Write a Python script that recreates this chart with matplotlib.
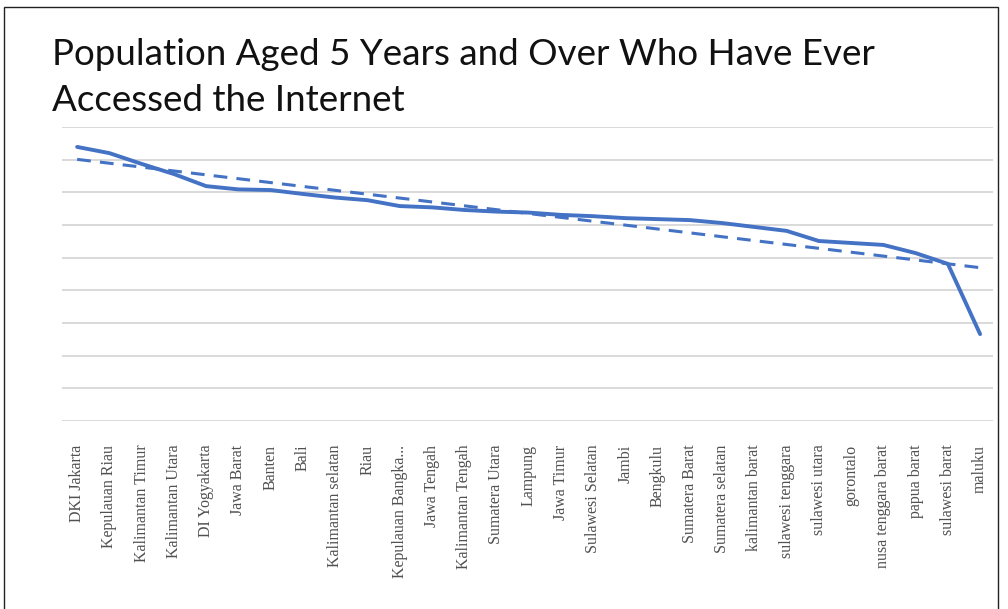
import matplotlib
matplotlib.use("Agg")
import matplotlib.pyplot as plt
from matplotlib.patches import Rectangle
import numpy as np

provinces = [
    "DKI Jakarta", "Kepulauan Riau", "Kalimantan Timur", "Kalimantan Utara",
    "DI Yogyakarta", "Jawa Barat", "Banten", "Bali", "Kalimantan selatan",
    "Riau", "Kepulauan Bangka...", "Jawa Tengah", "Kalimantan Tengah",
    "Sumatera Utara", "Lampung", "Jawa Timur", "Sulawesi Selatan", "Jambi",
    "Bengkulu", "Sumatera Barat", "Sumatera selatan", "kalimantan barat",
    "sulawesi tenggara", "sulawesi utara", "gorontalo", "nusa tenggara barat",
    "papua barat", "sulawesi barat", "maluku",
]
internet_pct = [
    83.9, 82.0, 78.7, 75.6, 71.9, 70.9, 70.7, 69.5, 68.4, 67.6,
    65.8, 65.4, 64.6, 64.1, 63.8, 63.1, 62.7, 62.1, 61.8, 61.5,
    60.6, 59.4, 58.2, 55.1, 54.5, 53.9, 51.4, 48.1, 26.6,
]
title_lines = ["Population Aged 5 Years and Over Who Have Ever",
               "Accessed the Internet"]

W, H = 1008, 609
fig = plt.figure(figsize=(W / 100, H / 100), dpi=100)
fig.patch.set_facecolor("white")

# chart border
fig.add_artist(Rectangle((4 / W, -0.01), 994 / W, (H - 7) / H + 0.01,
                         transform=fig.transFigure, fill=False,
                         edgecolor="#222222", linewidth=1.0))

ax = fig.add_axes([62 / W, (H - 421) / H, (993 - 62) / W, (421 - 127) / H])
x = np.arange(len(provinces))
blue = "#4472C4"
ax.plot(x, internet_pct, color=blue, linewidth=2.8, solid_joinstyle="round",
        solid_capstyle="round", zorder=3)

coef = np.polyfit(x, internet_pct, 1)
ax.plot(x, np.polyval(coef, x), color=blue, linewidth=2.2,
        linestyle=(0, (4.5, 3)), zorder=3)

ax.set_ylim(0, 90)
ax.set_yticks(np.arange(0, 91, 10))
ax.set_xlim(-0.47, len(provinces) - 1 + 0.4)
ax.grid(axis="y", color="#D9D9D9", linewidth=1.4)
ax.set_axisbelow(True)
for s in ax.spines.values():
    s.set_visible(False)
ax.tick_params(axis="y", left=False, labelleft=False)
ax.tick_params(axis="x", length=0, pad=17)
ax.set_xticks(x)
ax.set_xticklabels(provinces, rotation=90, fontsize=11.5,
                   family="Liberation Serif", color="#505050")

for line, base in zip(title_lines, [65, 111]):
    fig.text(52 / W, 1 - base / H, line, fontsize=26.5, family="Lato",
             color="#111111", va="baseline", ha="left")

fig.savefig("out.png", dpi=100, facecolor="white")
